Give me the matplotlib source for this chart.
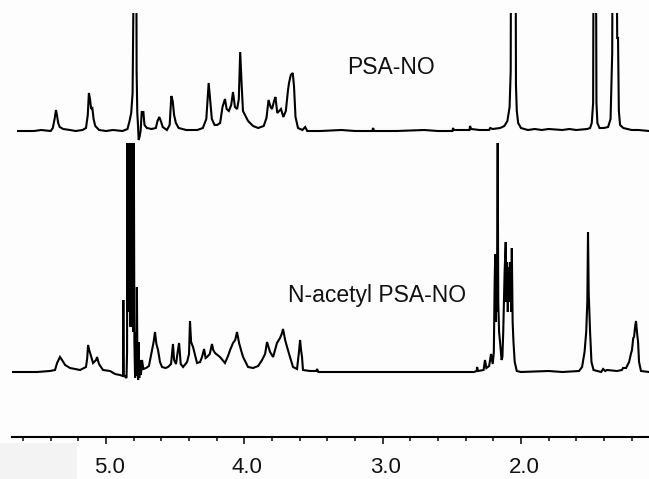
import matplotlib.pyplot as plt
from matplotlib.ticker import MultipleLocator
from matplotlib.patches import Rectangle
from matplotlib.transforms import ScaledTranslation

plt.rcParams['font.family'] = ['Liberation Sans', 'DejaVu Sans']

# PSA-NO spectrum, traced vertices (ppm, intensity)
top_ppm = [5.636, 5.520, 5.470, 5.400, 5.385, 5.372, 5.362, 5.355, 5.346, 5.335, 5.310, 5.260, 5.220,
           5.170, 5.145, 5.132, 5.124, 5.116, 5.108, 5.100, 5.090, 5.078, 5.050, 5.000, 4.950, 4.880,
           4.845, 4.830, 4.818, 4.808, 4.802, 4.799, 4.795, 4.791, 4.787, 4.783, 4.779, 4.774, 4.769,
           4.764, 4.758, 4.750, 4.742,
           4.730, 4.722, 4.705, 4.670, 4.640, 4.628, 4.615, 4.604, 4.590, 4.560, 4.540, 4.528, 4.518,
           4.508, 4.495, 4.475, 4.420, 4.340, 4.300, 4.275, 4.258, 4.248, 4.235, 4.215, 4.197, 4.175,
           4.158, 4.140, 4.128, 4.112, 4.095, 4.082, 4.068, 4.052, 4.040, 4.030, 4.020, 4.010, 3.995,
           3.973, 3.937, 3.900, 3.860, 3.840, 3.825, 3.810, 3.800, 3.785, 3.775, 3.762, 3.748, 3.735,
           3.718, 3.700, 3.685, 3.677, 3.664, 3.650, 3.641, 3.630, 3.612, 3.580, 3.560, 3.545, 3.450,
           3.300, 3.200, 3.075, 3.069, 3.062, 2.900, 2.700, 2.600, 2.495, 2.491, 2.485, 2.420, 2.372,
           2.368, 2.360, 2.300, 2.230, 2.222, 2.205, 2.150, 2.120, 2.098, 2.082, 2.074, 2.070, 2.066,
           2.060, 2.054, 2.048, 2.040, 2.036, 2.030, 2.020, 2.000, 1.950, 1.900, 1.850, 1.800, 1.700,
           1.650, 1.600, 1.520, 1.500, 1.488, 1.478, 1.473, 1.466, 1.460, 1.454, 1.447, 1.432, 1.400,
           1.370, 1.352, 1.340, 1.335, 1.328, 1.322, 1.312, 1.304, 1.298, 1.292, 1.283, 1.260, 1.200,
           1.150, 1.074]
top_int = [0, 0, 1, 0, 3, 12, 21, 16, 8, 4, 2, 1, 0,
           1, 3, 16, 38, 32, 22, 24, 12, 5, 1, 0, 1, 0,
           2, 10, 18, 38, 120, 300, 200, 300, 200, 300, 60, 18, 6,
           -9, -6, 0, 19,
           19, 6, 3, 2, 3, 10, 14, 10, 4, 1, 6, 35, 30,
           16, 8, 3, 1, 1, 3, 12, 48, 32, 12, 6, 6, 8,
           24, 32, 22, 20, 26, 39, 24, 22, 32, 79, 48, 20, 16,
           10, 5, 3, 5, 13, 31, 24, 22, 30, 34, 18, 20, 22,
           14, 20, 40, 48, 56, 58, 45, 14, 3, 1, 4, 0, 0,
           1, 0, 0, 3, 0, 0, 1, 0, 0, 3, 1, 1, 1,
           5, 2, 1, 1, 3, 2, 3, 5, 10, 24, 60, 300, 200,
           300, 200, 300, 300, 46, 20, 8, 3, 1, 2, 1, 2, 1,
           2, 1, 2, 3, 8, 28, 300, 200, 300, 28, 8, 3, 3,
           4, 12, 78, 300, 200, 300, 300, 93, 93, 20, 6, 3, 1,
           1, 0]

# N-acetyl PSA-NO spectrum, traced vertices (ppm, intensity)
bot_ppm = [5.680, 5.500, 5.405, 5.369, 5.354, 5.333, 5.318, 5.296, 5.260, 5.188, 5.145, 5.136, 5.130,
           5.122, 5.113, 5.094, 5.072, 5.065, 5.051, 5.022, 4.971, 4.935, 4.899, 4.880, 4.877, 4.875,
           4.872, 4.860, 4.852, 4.848, 4.846, 4.842, 4.838, 4.834, 4.830, 4.826, 4.822, 4.819, 4.815,
           4.811, 4.807, 4.803, 4.799, 4.795, 4.790, 4.785, 4.780, 4.777, 4.773, 4.768, 4.764, 4.760,
           4.755, 4.748, 4.740, 4.730, 4.710, 4.690, 4.667, 4.656, 4.646, 4.636, 4.624, 4.610, 4.595,
           4.570, 4.552, 4.530, 4.516, 4.508, 4.494, 4.482, 4.472, 4.460, 4.443, 4.414, 4.400, 4.393,
           4.385, 4.371, 4.342, 4.320, 4.306, 4.291, 4.280, 4.270, 4.250, 4.234, 4.225, 4.212, 4.176,
           4.140, 4.118, 4.103, 4.082, 4.066, 4.053, 4.038, 4.020, 4.009, 3.973, 3.937, 3.900, 3.872,
           3.850, 3.836, 3.814, 3.792, 3.764, 3.742, 3.730, 3.720, 3.705, 3.691, 3.670, 3.648, 3.619,
           3.605, 3.597, 3.590, 3.583, 3.576, 3.525, 3.480, 3.474, 3.465, 3.200, 2.900, 2.600, 2.340,
           2.320, 2.317, 2.310, 2.270, 2.260, 2.250, 2.230, 2.216, 2.204, 2.196, 2.190, 2.186, 2.182,
           2.178, 2.174, 2.168, 2.164, 2.158, 2.151, 2.140, 2.134, 2.128, 2.118, 2.110, 2.105, 2.100,
           2.095, 2.090, 2.084, 2.078, 2.070, 2.066, 2.060, 2.054, 2.045, 2.030, 2.000, 1.800, 1.700,
           1.580, 1.558, 1.540, 1.528, 1.520, 1.515, 1.510, 1.505, 1.500, 1.490, 1.475, 1.420, 1.406,
           1.390, 1.378, 1.305, 1.270, 1.262, 1.240, 1.218, 1.205, 1.197, 1.188, 1.182, 1.175, 1.168,
           1.161, 1.153, 1.146, 1.132, 1.074]
bot_int = [0, 0, 1, 2, 9, 15, 12, 7, 4, 2, 5, 14, 27,
           22, 18, 9, 12, 15, 8, 2, 1, -2, -3, -4, -2, 72,
           -3, -5, -6, 20, 229, 60, 229, 80, 229, 50, 45, 60, 229,
           70, 229, 40, 229, 30, -6, 40, -4, 85, 10, -8, 30, -6,
           12, -3, 12, 3, 4, 6, 22, 30, 40, 28, 22, 10, 5,
           4, 5, 8, 28, 12, 8, 20, 29, 8, 5, 10, 18, 51,
           30, 25, 9, 10, 15, 23, 14, 15, 18, 28, 22, 19, 15,
           9, 16, 22, 29, 32, 40, 29, 20, 15, 5, 4, 6, 12,
           18, 30, 20, 15, 29, 34, 38, 43, 32, 25, 15, 5, 3,
           20, 32, 22, 15, 2, 1, 1, 3, 0, 0, 0, 0, 0,
           1, 5, 1, 2, 12, 4, 6, 18, 8, 20, 90, 118, 50,
           90, 60, 229, 70, 40, 30, 12, 15, 40, 100, 130, 70, 110,
           60, 105, 70, 110, 60, 124, 50, 30, 10, 1, 0, 1, 0,
           1, 5, 20, 40, 70, 140, 79, 60, 40, 10, 2, 0, 3,
           1, 2, 1, 2, 4, 4, 10, 18, 22, 34, 35, 45, 51,
           40, 30, 10, 1, 0]

top_offset = 306
bot_offset = 65

tick_vals = [5.0, 4.0, 3.0, 2.0]
tick_labels = ['5.0', '4.0', '3.0', '2.0']

fig = plt.figure(figsize=(6.49, 4.79), dpi=100, facecolor='#fdfdfd')
fig.patches.append(Rectangle((0, 0), 77 / 649, 36 / 479, transform=fig.transFigure,
                             facecolor='#f3f3f3', edgecolor='none', zorder=0))

ax = fig.add_axes([12 / 649, 42 / 479, 637 / 649, 424 / 479])
ax.set_facecolor('none')

ax.plot(top_ppm, [v + top_offset for v in top_int], color='black', lw=1.5, solid_joinstyle='miter')
ax.plot(bot_ppm, [v + bot_offset for v in bot_int], color='black', lw=1.5, solid_joinstyle='miter')

ax.text(3.257, 363, 'PSA-NO', fontsize=16.5, ha='left', va='baseline', color='#111111')
ax.text(3.684, 135, 'N-acetyl PSA-NO', fontsize=16.5, ha='left', va='baseline', color='#111111')

ax.set_xlim(5.68, 1.074)
ax.set_ylim(0, 424)

for s in ['top', 'left', 'right']:
    ax.spines[s].set_visible(False)
ax.spines['bottom'].set_linewidth(1.5)

ax.set_yticks([])
ax.set_xticks(tick_vals)
ax.set_xticklabels(tick_labels)
ax.xaxis.set_minor_locator(MultipleLocator(0.2))
ax.tick_params(axis='x', which='major', direction='out', length=5, width=1.1, labelsize=16, pad=9.5,
               labelcolor='#111111')
ax.tick_params(axis='x', which='minor', direction='out', length=3, width=1.1)

# labels in the reference sit a few pixels right of their ticks
shift = ScaledTranslation(3 / 100, 0, fig.dpi_scale_trans)
for lab in ax.get_xticklabels():
    lab.set_transform(lab.get_transform() + shift)

fig.savefig('out.png', dpi=100, facecolor=fig.get_facecolor())
